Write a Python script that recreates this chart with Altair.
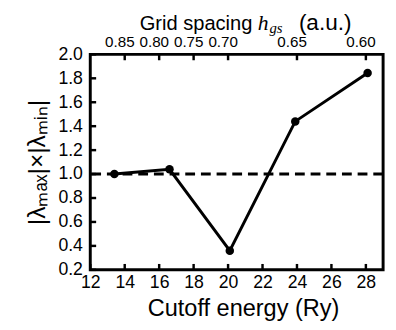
import altair as alt
import pandas as pd

# ---- data ----
cutoff_energy = [13.4, 16.6, 20.1, 23.9, 28.1]
lambda_product = [1.0, 1.04, 0.36, 1.44, 1.845]
reference_level = [1.0]

x_ticks = [12, 14, 16, 18, 20, 22, 24, 26, 28]
y_ticks = [0.2, 0.4, 0.6, 0.8, 1.0, 1.2, 1.4, 1.6, 1.8, 2.0]
top_tick_energy = [14, 16, 18, 20, 24, 28]
top_tick_labels = ["0.85", "0.80", "0.75", "0.70", "0.65", "0.60"]

title_grid = ["Grid spacing"]
title_h = ["h"]
title_gs = ["gs"]
title_au = ["(a.u.)"]

W, H = 299, 220
FONT = "Liberation Sans"

xs = alt.Scale(domain=[12, 29], nice=False, zero=False)
ys = alt.Scale(domain=[0.2, 2.0], nice=False, zero=False)

x_axis = alt.Axis(
    values=x_ticks, title="Cutoff energy (Ry)", ticks=False, tickSize=0,
    domain=False, grid=False, labelFont=FONT, labelFontSize=18,
    labelColor="black", labelPadding=4, labelFlush=False, labelOverlap=False,
    titleFont=FONT, titleFontSize=24, titleFontWeight="normal",
    titleColor="black", titlePadding=6, titleX=156)
y_axis = alt.Axis(
    values=y_ticks, format=".1f", title="|λₘₐₓ|×|λₘᵢₙ|", ticks=False,
    tickSize=0, domain=False, grid=False, labelFont=FONT, labelFontSize=18,
    labelColor="black", labelPadding=8, labelFlush=False, labelOverlap=False,
    titleFont=FONT, titleFontSize=25, titleFontWeight="normal",
    titleColor="black", titlePadding=9)

df = pd.DataFrame({"E": cutoff_energy, "P": lambda_product})

line = alt.Chart(df).mark_line(color="black", strokeWidth=3).encode(
    x=alt.X("E:Q", scale=xs, axis=x_axis),
    y=alt.Y("P:Q", scale=ys, axis=y_axis),
)

points = alt.Chart(df).mark_circle(color="black", size=75, opacity=1).encode(
    x=alt.X("E:Q", scale=xs, axis=x_axis),
    y=alt.Y("P:Q", scale=ys, axis=y_axis),
)

ref = alt.Chart(pd.DataFrame({"r": reference_level})).mark_rule(
    color="black", strokeWidth=3, strokeDash=[10, 6]
).encode(y=alt.Y("r:Q", scale=ys, axis=y_axis))

left_ticks = alt.Chart(pd.DataFrame({"v": y_ticks})).mark_rule(
    color="black", strokeWidth=2.5
).encode(y=alt.Y("v:Q", scale=ys, axis=y_axis), x=alt.value(0), x2=alt.value(6))

bottom_ticks = alt.Chart(pd.DataFrame({"v": x_ticks})).mark_rule(
    color="black", strokeWidth=2.5
).encode(x=alt.X("v:Q", scale=xs, axis=x_axis), y=alt.value(H), y2=alt.value(H - 6))

top_ticks = alt.Chart(pd.DataFrame({"v": top_tick_energy})).mark_rule(
    color="black", strokeWidth=2.5
).encode(x=alt.X("v:Q", scale=xs, axis=x_axis), y=alt.value(0), y2=alt.value(6))

top_labels = alt.Chart(pd.DataFrame({"v": top_tick_energy, "lab": top_tick_labels})).mark_text(
    font=FONT, fontSize=15.5, color="black", baseline="alphabetic", align="center", dx=-5
).encode(x=alt.X("v:Q", scale=xs, axis=x_axis), y=alt.value(-8), text="lab:N")

t1 = alt.Chart(pd.DataFrame({"t": title_grid})).mark_text(
    font=FONT, fontSize=20.5, color="black", align="left", baseline="alphabetic"
).encode(text="t:N", x=alt.value(50.5), y=alt.value(-25))
t2 = alt.Chart(pd.DataFrame({"t": title_h})).mark_text(
    font="Liberation Serif", fontStyle="italic", fontSize=22, color="black",
    align="left", baseline="alphabetic"
).encode(text="t:N", x=alt.value(171), y=alt.value(-25))
t3 = alt.Chart(pd.DataFrame({"t": title_gs})).mark_text(
    font="Liberation Serif", fontStyle="italic", fontSize=15, color="black",
    align="left", baseline="alphabetic"
).encode(text="t:N", x=alt.value(183), y=alt.value(-22))
t4 = alt.Chart(pd.DataFrame({"t": title_au})).mark_text(
    font=FONT, fontSize=23, color="black", align="left", baseline="alphabetic"
).encode(text="t:N", x=alt.value(213), y=alt.value(-25))

chart = alt.layer(
    ref, line, points, left_ticks, bottom_ticks, top_ticks, top_labels, t1, t2, t3, t4
).properties(
    width=W, height=H,
    autosize=alt.AutoSizeParams(type="none"),
    padding={"left": 84, "top": 44, "right": 5, "bottom": 54},
    background="white",
).configure_view(stroke="black", strokeWidth=3)

chart.save("out.html", embed_options={"renderer": "svg", "actions": False})
